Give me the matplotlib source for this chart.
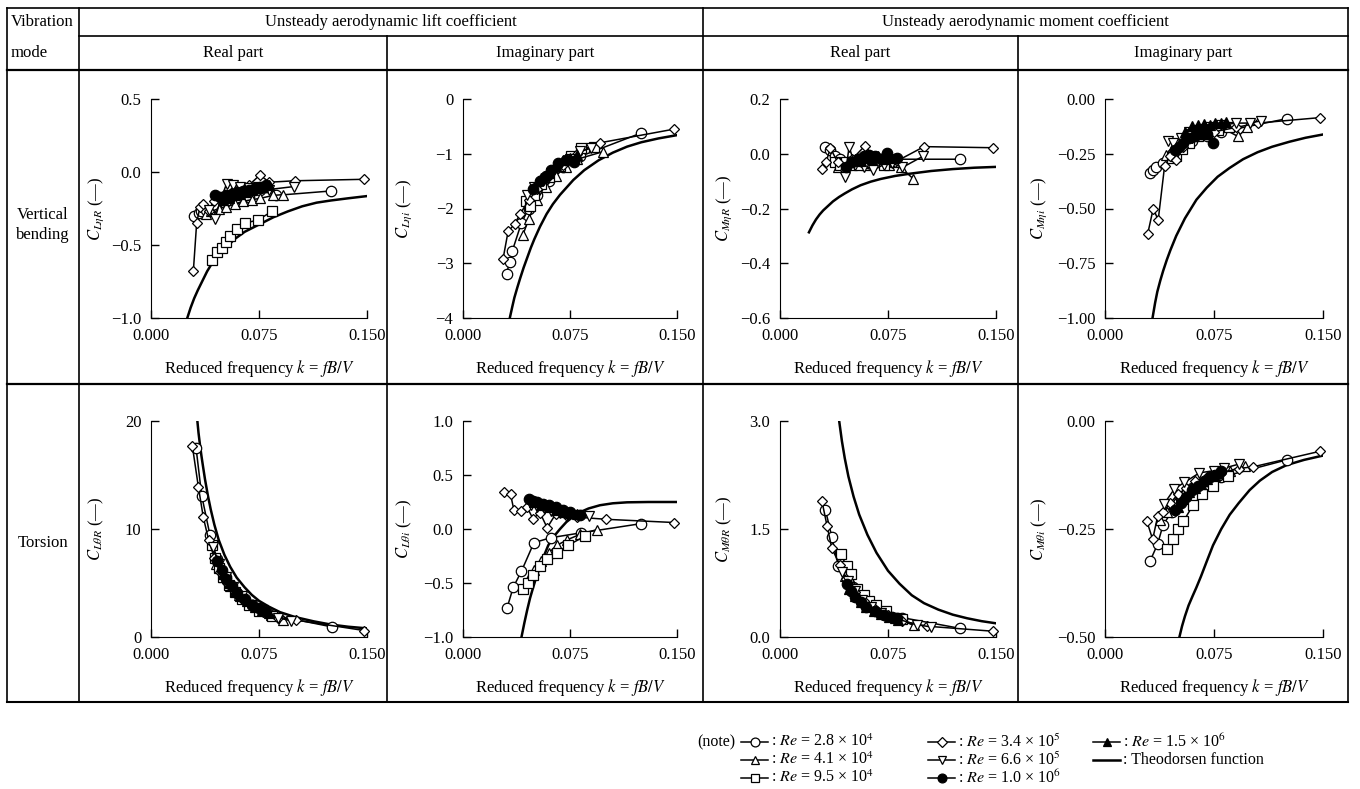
import matplotlib
matplotlib.use('Agg')
from matplotlib import pyplot as plt
from matplotlib.lines import Line2D

plt.rcParams['font.family'] = 'serif'
plt.rcParams['font.serif'] = ['Liberation Serif', 'DejaVu Serif']
plt.rcParams['mathtext.fontset'] = 'stix'
plt.rcParams['font.size'] = 12

# ---- data (k = fB/V, coefficient) ----
# series keys: c28, t41, s95, d34, v66, f10, t15 (Re = 2.8e4 ... 1.5e6)

lr_data = {  # C_L eta R
  'c28': ([0.030, 0.033, 0.035, 0.038, 0.045, 0.052, 0.060, 0.068, 0.076, 0.080, 0.087, 0.125],
          [-0.30, -0.28, -0.27, -0.26, -0.23, -0.20, -0.18, -0.17, -0.12, -0.10, -0.16, -0.13]),
  't41': ([0.038, 0.042, 0.047, 0.052, 0.058, 0.064, 0.070, 0.076, 0.085, 0.092],
          [-0.29, -0.27, -0.25, -0.24, -0.22, -0.20, -0.19, -0.18, -0.16, -0.155]),
  's95': ([0.0426, 0.0456, 0.049, 0.052, 0.055, 0.0595, 0.065, 0.074, 0.084],
          [-0.60, -0.55, -0.52, -0.48, -0.44, -0.39, -0.35, -0.33, -0.27]),
  'd34': ([0.0294, 0.0317, 0.034, 0.036, 0.040, 0.044, 0.050, 0.056, 0.062, 0.068, 0.0757, 0.082, 0.100, 0.148],
          [-0.68, -0.35, -0.24, -0.22, -0.27, -0.20, -0.17, -0.14, -0.12, -0.09, -0.02, -0.07, -0.06, -0.05]),
  'v66': ([0.040, 0.0444, 0.048, 0.0525, 0.057, 0.062, 0.068, 0.074, 0.082, 0.099],
          [-0.26, -0.32, -0.20, -0.08, -0.09, -0.10, -0.11, -0.10, -0.12, -0.10]),
  'f10': ([0.0444, 0.048, 0.052, 0.056, 0.060, 0.064, 0.068, 0.072, 0.076, 0.080],
          [-0.155, -0.17, -0.16, -0.15, -0.14, -0.13, -0.12, -0.11, -0.10, -0.09]),
  't15': ([0.050, 0.054, 0.058, 0.062, 0.066, 0.070, 0.074, 0.078, 0.082],
          [-0.19, -0.18, -0.16, -0.15, -0.14, -0.12, -0.11, -0.10, -0.09]),
}
lr_theo = ([0.0252, 0.0275, 0.030, 0.0325, 0.035, 0.039, 0.0433, 0.047, 0.052, 0.058, 0.065,
            0.075, 0.085, 0.095, 0.105, 0.115, 0.125, 0.137, 0.150],
           [-1.0, -0.93, -0.865, -0.81, -0.76, -0.68, -0.61, -0.565, -0.52, -0.46, -0.41,
            -0.36, -0.31, -0.27, -0.235, -0.21, -0.195, -0.18, -0.165])

li_data = {  # C_L eta i
  'c28': ([0.0305, 0.0328, 0.0345, 0.041, 0.046, 0.052, 0.060, 0.070, 0.082, 0.125],
          [-3.19, -2.97, -2.78, -2.26, -2.0, -1.75, -1.5, -1.25, -1.05, -0.62]),
  't41': ([0.042, 0.046, 0.0516, 0.058, 0.065, 0.072, 0.080, 0.0984],
          [-2.48, -2.2, -1.84, -1.6, -1.4, -1.25, -1.1, -0.96]),
  's95': ([0.0445, 0.047, 0.050, 0.055, 0.060, 0.068, 0.076, 0.083, 0.092],
          [-1.87, -1.95, -1.75, -1.55, -1.42, -1.22, -1.05, -0.90, -0.88]),
  'd34': ([0.028, 0.0316, 0.0363, 0.040, 0.046, 0.052, 0.060, 0.070, 0.080, 0.096, 0.148],
          [-2.93, -2.42, -2.28, -2.1, -1.85, -1.65, -1.4, -1.2, -1.0, -0.80, -0.55]),
  'v66': ([0.045, 0.050, 0.056, 0.062, 0.068, 0.075, 0.082, 0.090],
          [-1.75, -1.6, -1.5, -1.35, -1.2, -1.1, -0.95, -0.9]),
  'f10': ([0.0488, 0.054, 0.058, 0.062, 0.0668, 0.072, 0.078],
          [-1.64, -1.5, -1.4, -1.29, -1.17, -1.12, -1.15]),
  't15': ([0.050, 0.055, 0.060, 0.065, 0.070, 0.075, 0.080],
          [-1.6, -1.45, -1.35, -1.22, -1.12, -1.08, -1.02]),
}
li_theo = ([0.0328, 0.0345, 0.036, 0.038, 0.040, 0.0425, 0.045, 0.0475, 0.050, 0.054, 0.0586,
            0.063, 0.068, 0.0773, 0.085, 0.095, 0.105, 0.115, 0.125, 0.137, 0.150],
           [-4.0, -3.8, -3.63, -3.45, -3.28, -3.08, -2.9, -2.72, -2.56, -2.33, -2.1,
            -1.92, -1.75, -1.48, -1.3, -1.12, -0.98, -0.87, -0.79, -0.72, -0.66])

mr_data = {  # C_M eta R
  'c28': ([0.031, 0.0345, 0.038, 0.042, 0.048, 0.055, 0.062, 0.070, 0.080, 0.125],
          [0.023, 0.013, -0.01, -0.02, -0.03, -0.02, -0.01, -0.02, -0.02, -0.02]),
  't41': ([0.040, 0.046, 0.052, 0.060, 0.068, 0.076, 0.084, 0.0924],
          [-0.05, -0.04, -0.03, -0.04, -0.03, -0.04, -0.05, -0.091]),
  's95': ([0.038, 0.042, 0.046, 0.050, 0.055, 0.060, 0.066, 0.072, 0.080],
          [-0.03, -0.04, -0.03, -0.04, -0.04, -0.03, -0.03, -0.04, -0.03]),
  'd34': ([0.0294, 0.032, 0.035, 0.040, 0.045, 0.050, 0.059, 0.065, 0.072, 0.080, 0.100, 0.148],
          [-0.055, -0.03, 0.02, -0.03, -0.06, -0.02, 0.029, -0.01, -0.02, -0.03, 0.026, 0.022]),
  'v66': ([0.045, 0.048, 0.052, 0.058, 0.0646, 0.072, 0.078, 0.085, 0.099],
          [-0.085, 0.025, -0.04, -0.05, -0.059, -0.04, -0.035, -0.05, -0.01]),
  'f10': ([0.0456, 0.050, 0.054, 0.058, 0.062, 0.066, 0.070, 0.074, 0.081],
          [-0.047, -0.03, -0.02, -0.01, -0.005, -0.01, -0.02, 0.004, -0.017]),
  't15': ([0.048, 0.052, 0.056, 0.060, 0.064, 0.068, 0.072, 0.076],
          [-0.03, -0.02, -0.025, -0.015, -0.02, -0.01, -0.02, -0.015]),
}
mr_theo = ([0.0201, 0.0225, 0.025, 0.0275, 0.030, 0.0335, 0.0368, 0.041, 0.045, 0.050, 0.056,
            0.063, 0.070, 0.080, 0.090, 0.105, 0.120, 0.135, 0.150],
           [-0.287, -0.262, -0.24, -0.222, -0.207, -0.19, -0.174, -0.158, -0.145, -0.13, -0.115,
            -0.102, -0.092, -0.081, -0.073, -0.063, -0.056, -0.051, -0.048])

mi_data = {  # C_M eta i
  'c28': ([0.0309, 0.033, 0.0354, 0.040, 0.046, 0.052, 0.060, 0.070, 0.080, 0.125],
          [-0.34, -0.324, -0.312, -0.29, -0.25, -0.22, -0.19, -0.17, -0.15, -0.09]),
  't41': ([0.042, 0.046, 0.052, 0.058, 0.064, 0.072, 0.080, 0.0915, 0.098],
          [-0.255, -0.23, -0.20, -0.17, -0.15, -0.14, -0.13, -0.171, -0.13]),
  's95': ([0.046, 0.049, 0.053, 0.058, 0.064, 0.070, 0.078, 0.085],
          [-0.27, -0.26, -0.23, -0.20, -0.17, -0.16, -0.14, -0.13]),
  'd34': ([0.0293, 0.0332, 0.0366, 0.041, 0.045, 0.049, 0.054, 0.060, 0.066, 0.075, 0.090, 0.105, 0.148],
          [-0.618, -0.50, -0.553, -0.306, -0.26, -0.278, -0.22, -0.18, -0.16, -0.15, -0.13, -0.11, -0.085]),
  'v66': ([0.0434, 0.047, 0.052, 0.058, 0.065, 0.072, 0.080, 0.090, 0.0995, 0.107],
          [-0.194, -0.20, -0.18, -0.15, -0.14, -0.13, -0.12, -0.11, -0.11, -0.10]),
  'f10': ([0.048, 0.051, 0.0537, 0.058, 0.062, 0.066, 0.070, 0.0743],
          [-0.235, -0.22, -0.20, -0.18, -0.17, -0.16, -0.16, -0.20]),
  't15': ([0.055, 0.060, 0.064, 0.068, 0.072, 0.076, 0.080, 0.0835],
          [-0.15, -0.125, -0.12, -0.115, -0.12, -0.11, -0.11, -0.107]),
}
mi_theo = ([0.0327, 0.0345, 0.036, 0.038, 0.040, 0.0425, 0.045, 0.049, 0.055, 0.0629, 0.070,
            0.0775, 0.0857, 0.095, 0.105, 0.115, 0.127, 0.138, 0.150],
           [-1.0, -0.93, -0.88, -0.83, -0.785, -0.735, -0.69, -0.625, -0.545, -0.46, -0.405,
            -0.355, -0.315, -0.275, -0.243, -0.218, -0.195, -0.177, -0.162])

tr_data = {  # C_L theta R
  'c28': ([0.0313, 0.0352, 0.041, 0.046, 0.052, 0.060, 0.070, 0.082, 0.1255],
          [17.5, 13.1, 9.4, 7.2, 5.6, 4.1, 3.0, 2.1, 0.94]),
  't41': ([0.045, 0.050, 0.055, 0.061, 0.068, 0.075, 0.083, 0.092],
          [6.8, 5.6, 4.7, 3.9, 3.1, 2.6, 2.0, 1.6]),
  's95': ([0.0421, 0.0444, 0.047, 0.050, 0.054, 0.058, 0.063, 0.068, 0.075, 0.0838],
          [8.5, 7.3, 6.4, 5.6, 4.8, 4.2, 3.5, 3.0, 2.4, 1.9]),
  'd34': ([0.0287, 0.0329, 0.0363, 0.040, 0.044, 0.048, 0.053, 0.058, 0.064, 0.070, 0.078, 0.088, 0.101, 0.148],
          [17.7, 13.9, 11.1, 9.0, 7.3, 6.0, 5.0, 4.2, 3.4, 2.8, 2.3, 1.8, 1.56, 0.6]),
  'v66': ([0.043, 0.047, 0.052, 0.057, 0.063, 0.070, 0.078, 0.088, 0.097],
          [8.3, 6.8, 5.6, 4.6, 3.8, 3.0, 2.5, 1.8, 1.5]),
  'f10': ([0.046, 0.049, 0.052, 0.056, 0.060, 0.065, 0.070, 0.075, 0.079],
          [7.0, 6.2, 5.4, 4.7, 4.1, 3.5, 3.0, 2.7, 2.4]),
  't15': ([0.050, 0.054, 0.058, 0.062, 0.067, 0.072, 0.077, 0.082],
          [5.8, 5.0, 4.3, 3.8, 3.3, 2.8, 2.5, 2.2]),
}
tr_theo = ([0.0322, 0.033, 0.034, 0.035, 0.036, 0.0375, 0.0395, 0.0415, 0.044, 0.047, 0.051,
            0.055, 0.0595, 0.065, 0.070, 0.075, 0.082, 0.0896, 0.100, 0.113, 0.125, 0.137, 0.150],
           [20.0, 18.9, 17.8, 16.8, 15.9, 14.6, 13.1, 11.8, 10.4, 9.0, 7.6,
            6.5, 5.5, 4.6, 3.9, 3.35, 2.8, 2.3, 1.85, 1.45, 1.15, 0.95, 0.8])

ti_data = {  # C_L theta i
  'c28': ([0.0309, 0.0352, 0.041, 0.0497, 0.0614, 0.083, 0.125],
          [-0.73, -0.54, -0.39, -0.127, -0.081, -0.035, 0.05]),
  't41': ([0.046, 0.050, 0.055, 0.060, 0.066, 0.073, 0.082, 0.094],
          [-0.45, -0.38, -0.30, -0.22, -0.15, -0.10, -0.05, -0.005]),
  's95': ([0.042, 0.0457, 0.049, 0.054, 0.059, 0.0656, 0.0738, 0.0855],
          [-0.556, -0.50, -0.43, -0.34, -0.28, -0.22, -0.15, -0.066]),
  'd34': ([0.0286, 0.0333, 0.0356, 0.041, 0.045, 0.049, 0.054, 0.059, 0.065, 0.072, 0.080, 0.100, 0.148],
          [0.34, 0.323, 0.18, 0.164, 0.20, 0.096, 0.15, 0.011, 0.14, 0.13, 0.11, 0.09, 0.06]),
  'v66': ([0.048, 0.052, 0.057, 0.062, 0.068, 0.074, 0.080, 0.088],
          [0.22, 0.20, 0.19, 0.17, 0.15, 0.14, 0.13, 0.12]),
  'f10': ([0.046, 0.049, 0.052, 0.056, 0.060, 0.065, 0.070, 0.075, 0.082],
          [0.277, 0.26, 0.25, 0.23, 0.22, 0.20, 0.18, 0.16, 0.133]),
  't15': ([0.050, 0.055, 0.060, 0.065, 0.070, 0.075, 0.080],
          [0.25, 0.22, 0.20, 0.18, 0.16, 0.15, 0.14]),
}
ti_theo = ([0.041, 0.043, 0.045, 0.047, 0.0492, 0.0515, 0.054, 0.057, 0.0598, 0.063, 0.068,
            0.0725, 0.0773, 0.082, 0.088, 0.096, 0.105, 0.115, 0.130, 0.150],
           [-1.0, -0.87, -0.75, -0.64, -0.54, -0.44, -0.35, -0.24, -0.15, -0.08, 0.0,
            0.065, 0.115, 0.155, 0.19, 0.22, 0.238, 0.247, 0.25, 0.25])

tmr_data = {  # C_M theta R
  'c28': ([0.0315, 0.036, 0.0406, 0.051, 0.0626, 0.0846, 0.125],
          [1.77, 1.39, 0.98, 0.69, 0.43, 0.27, 0.12]),
  't41': ([0.045, 0.050, 0.055, 0.062, 0.070, 0.080, 0.0929],
          [0.85, 0.70, 0.58, 0.45, 0.35, 0.27, 0.16]),
  's95': ([0.0423, 0.0463, 0.049, 0.0535, 0.058, 0.062, 0.0666, 0.0738, 0.0846],
          [1.15, 0.98, 0.88, 0.67, 0.58, 0.50, 0.44, 0.36, 0.25]),
  'd34': ([0.0291, 0.0327, 0.036, 0.0416, 0.046, 0.052, 0.058, 0.065, 0.075, 0.085, 0.102, 0.148],
          [1.89, 1.54, 1.23, 1.0, 0.80, 0.62, 0.50, 0.40, 0.30, 0.22, 0.15, 0.08]),
  'v66': ([0.043, 0.047, 0.052, 0.057, 0.063, 0.070, 0.080, 0.095, 0.105],
          [0.90, 0.78, 0.64, 0.52, 0.42, 0.34, 0.26, 0.17, 0.14]),
  'f10': ([0.0463, 0.049, 0.052, 0.056, 0.060, 0.066, 0.072, 0.078, 0.081],
          [0.73, 0.64, 0.56, 0.48, 0.42, 0.36, 0.31, 0.28, 0.27]),
  't15': ([0.048, 0.052, 0.056, 0.060, 0.065, 0.070, 0.076, 0.082],
          [0.66, 0.57, 0.49, 0.42, 0.36, 0.32, 0.28, 0.24]),
}
tmr_theo = ([0.0411, 0.043, 0.045, 0.0475, 0.0511, 0.055, 0.0607, 0.067, 0.075, 0.083, 0.0915,
             0.100, 0.110, 0.120, 0.130, 0.140, 0.150],
            [3.0, 2.72, 2.48, 2.23, 1.95, 1.7, 1.42, 1.17, 0.92, 0.74, 0.58,
             0.47, 0.38, 0.31, 0.26, 0.22, 0.19])

tmi_data = {  # C_M theta i
  'c28': ([0.0309, 0.0362, 0.040, 0.046, 0.052, 0.060, 0.070, 0.080, 0.125],
          [-0.325, -0.285, -0.24, -0.21, -0.18, -0.155, -0.14, -0.13, -0.09]),
  't41': ([0.038, 0.043, 0.048, 0.054, 0.060, 0.068, 0.076, 0.086, 0.096],
          [-0.23, -0.21, -0.19, -0.17, -0.155, -0.14, -0.125, -0.115, -0.105]),
  's95': ([0.0427, 0.0466, 0.050, 0.054, 0.0605, 0.067, 0.0743, 0.0847],
          [-0.296, -0.274, -0.251, -0.232, -0.195, -0.17, -0.15, -0.127]),
  'd34': ([0.0288, 0.0328, 0.0362, 0.040, 0.045, 0.050, 0.056, 0.062, 0.070, 0.080, 0.092, 0.102, 0.148],
          [-0.232, -0.274, -0.221, -0.21, -0.19, -0.17, -0.155, -0.14, -0.13, -0.12, -0.11, -0.106, -0.07]),
  'v66': ([0.0408, 0.0478, 0.0547, 0.065, 0.075, 0.082, 0.092],
          [-0.191, -0.157, -0.142, -0.12, -0.115, -0.109, -0.10]),
  'f10': ([0.048, 0.052, 0.056, 0.060, 0.064, 0.068, 0.072, 0.076, 0.080],
          [-0.206, -0.19, -0.175, -0.16, -0.15, -0.14, -0.13, -0.125, -0.116]),
  't15': ([0.050, 0.054, 0.058, 0.062, 0.066, 0.070, 0.074, 0.078],
          [-0.20, -0.18, -0.165, -0.155, -0.145, -0.135, -0.125, -0.12]),
}
tmi_theo = ([0.0512, 0.053, 0.055, 0.0575, 0.0603, 0.0628, 0.066, 0.070, 0.0743, 0.080, 0.0858,
             0.092, 0.0995, 0.1066, 0.115, 0.125, 0.137, 0.150],
            [-0.5, -0.475, -0.452, -0.427, -0.405, -0.386, -0.36, -0.325, -0.288, -0.25, -0.217,
             -0.19, -0.16, -0.138, -0.118, -0.102, -0.09, -0.08])

re_keys = ['c28', 't41', 's95', 'd34', 'v66', 'f10', 't15']
re_mant = ['2.8', '4.1', '9.5', '3.4', '6.6', '1.0', '1.5']
re_exp = [4, 4, 4, 5, 5, 6, 6]

# marker, face colour, size
style = {
  'c28': ('o', 'white', 7.5),
  't41': ('^', 'white', 7.5),
  's95': ('s', 'white', 7),
  'd34': ('D', 'white', 5.5),
  'v66': ('v', 'white', 7.5),
  'f10': ('o', 'black', 7.5),
  't15': ('^', 'black', 7),
}

W, H = 1360, 789
fig = plt.figure(figsize=(W / 100, H / 100), dpi=100)


def fx(px):
  return px / W


def fy(py):
  return 1 - py / H


def hline(y, x0, x1, lw=1.2):
  fig.add_artist(Line2D([fx(x0), fx(x1)], [fy(y), fy(y)], transform=fig.transFigure, color='k', lw=lw))


def vline(x, y0, y1, lw=1.2):
  fig.add_artist(Line2D([fx(x), fx(x)], [fy(y0), fy(y1)], transform=fig.transFigure, color='k', lw=lw))


# table grid
L, R, T, B = 7, 1348, 8, 702
hline(T, L, R)
hline(B, L, R, 1.5)
hline(36, 79, R)
hline(70, L, R, 1.6)
hline(384, L, R, 1.6)
vline(L, T, B)
vline(R, T, B)
vline(79, T, B)
vline(703, T, B)
vline(387, 36, B)
vline(1018, 36, B)

fig.text(fx(11), fy(22), 'Vibration', ha='left', va='center')
fig.text(fx(11), fy(53), 'mode', ha='left', va='center')
fig.text(fx((79 + 703) / 2), fy(22), 'Unsteady aerodynamic lift coefficient', ha='center', va='center')
fig.text(fx((703 + R) / 2), fy(22), 'Unsteady aerodynamic moment coefficient', ha='center', va='center')
cols = [79, 387, 703, 1018, R]
for i, name in enumerate(['Real part', 'Imaginary part', 'Real part', 'Imaginary part']):
  fig.text(fx((cols[i] + cols[i + 1]) / 2), fy(53), name, ha='center', va='center')
fig.text(fx(43), fy(225), 'Vertical\nbending', ha='center', va='center', linespacing=1.4)
fig.text(fx(43), fy(543), 'Torsion', ha='center', va='center')

panels = [
  (lr_data, lr_theo, (-1.0, 0.5), [-1.0, -0.5, 0.0, 0.5], '%.1f', r'$C_{L\eta R}$ (—)'),
  (li_data, li_theo, (-4, 0), [-4, -3, -2, -1, 0], '%d', r'$C_{L\eta i}$ (—)'),
  (mr_data, mr_theo, (-0.6, 0.2), [-0.6, -0.4, -0.2, 0.0, 0.2], '%.1f', r'$C_{M\eta R}$ (—)'),
  (mi_data, mi_theo, (-1.0, 0.0), [-1.0, -0.75, -0.5, -0.25, 0.0], '%.2f', r'$C_{M\eta i}$ (—)'),
  (tr_data, tr_theo, (0, 20), [0, 10, 20], '%d', r'$C_{L\theta R}$ (—)'),
  (ti_data, ti_theo, (-1.0, 1.0), [-1.0, -0.5, 0.0, 0.5, 1.0], '%.1f', r'$C_{L\theta i}$ (—)'),
  (tmr_data, tmr_theo, (0.0, 3.0), [0.0, 1.5, 3.0], '%.1f', r'$C_{M\theta R}$ (—)'),
  (tmi_data, tmi_theo, (-0.5, 0.0), [-0.5, -0.25, 0.0], '%.2f', r'$C_{M\theta i}$ (—)'),
]

ax_left = [151, 463, 780, 1105]
ax_width = [216, 214, 216, 218]
ax_top = [99, 421]
ax_bot = [318, 637]
ylab_x = [-45, -49, -46, -56]

for n, (data, theo, ylim, yticks, fmt, ylab) in enumerate(panels):
  r, c = divmod(n, 4)
  x0, w = ax_left[c], ax_width[c]
  y0, y1 = ax_top[r], ax_bot[r]
  ax = fig.add_axes([fx(x0), fy(y1), w / W, (y1 - y0) / H])
  ax.plot(theo[0], theo[1], color='k', lw=1.8, zorder=2, solid_joinstyle='round')
  for key in re_keys:
    m, fc, ms = style[key]
    ks, vs = data[key]
    ax.plot(ks, vs, color='k', lw=1.1, marker=m, mfc=fc, mec='k', mew=0.9, ms=ms,
            zorder=3, clip_on=False)
  ax.set_xlim(0, 0.15)
  ax.set_ylim(*ylim)
  ax.set_xticks([0, 0.075, 0.15])
  ax.set_xticklabels(['0.000', '0.075', '0.150'])
  ax.set_yticks(yticks)
  ax.set_yticklabels([(fmt % v).replace('-', '\u2212') for v in yticks])
  ax.spines['top'].set_visible(False)
  ax.spines['right'].set_visible(False)
  ax.tick_params(direction='in', length=6, width=1, pad=7, labelsize=12)
  ax.patch.set_alpha(0)
  ax.set_xlabel(r'Reduced frequency $k$ = $fB/V$', fontsize=12)
  ax.xaxis.set_label_coords(0.5, -40 / (y1 - y0))
  ax.set_ylabel(ylab, fontsize=12)
  ax.yaxis.set_label_coords(ylab_x[c] / w, 0.5)

# legend drawn as a note below the table
fig.text(fx(697), fy(742), '(note)', ha='left', va='center', fontsize=11.5)
leg_pos = [(741, 742), (741, 760), (741, 778), (928, 742), (928, 760), (928, 778), (1093, 742)]
for key, mant, ex, (lx, ly) in zip(re_keys, re_mant, re_exp, leg_pos):
  m, fc, ms = style[key]
  fig.add_artist(Line2D([fx(lx), fx(lx + 27)], [fy(ly), fy(ly)], transform=fig.transFigure,
                        color='k', lw=1.1))
  fig.add_artist(Line2D([fx(lx + 13.5)], [fy(ly)], transform=fig.transFigure, color='k',
                        marker=m, mfc=fc, mec='k', mew=0.9, ms=ms * 0.85, lw=0))
  fig.text(fx(lx + 30), fy(ly), r': $Re$ = %s × 10$^{%d}$' % (mant, ex), ha='left', va='center',
           fontsize=11.5)
fig.add_artist(Line2D([fx(1093), fx(1120)], [fy(760), fy(760)], transform=fig.transFigure,
                      color='k', lw=1.8))
fig.text(fx(1123), fy(760), ': Theodorsen function', ha='left', va='center', fontsize=11.5)

fig.savefig('out.png', dpi=100)
